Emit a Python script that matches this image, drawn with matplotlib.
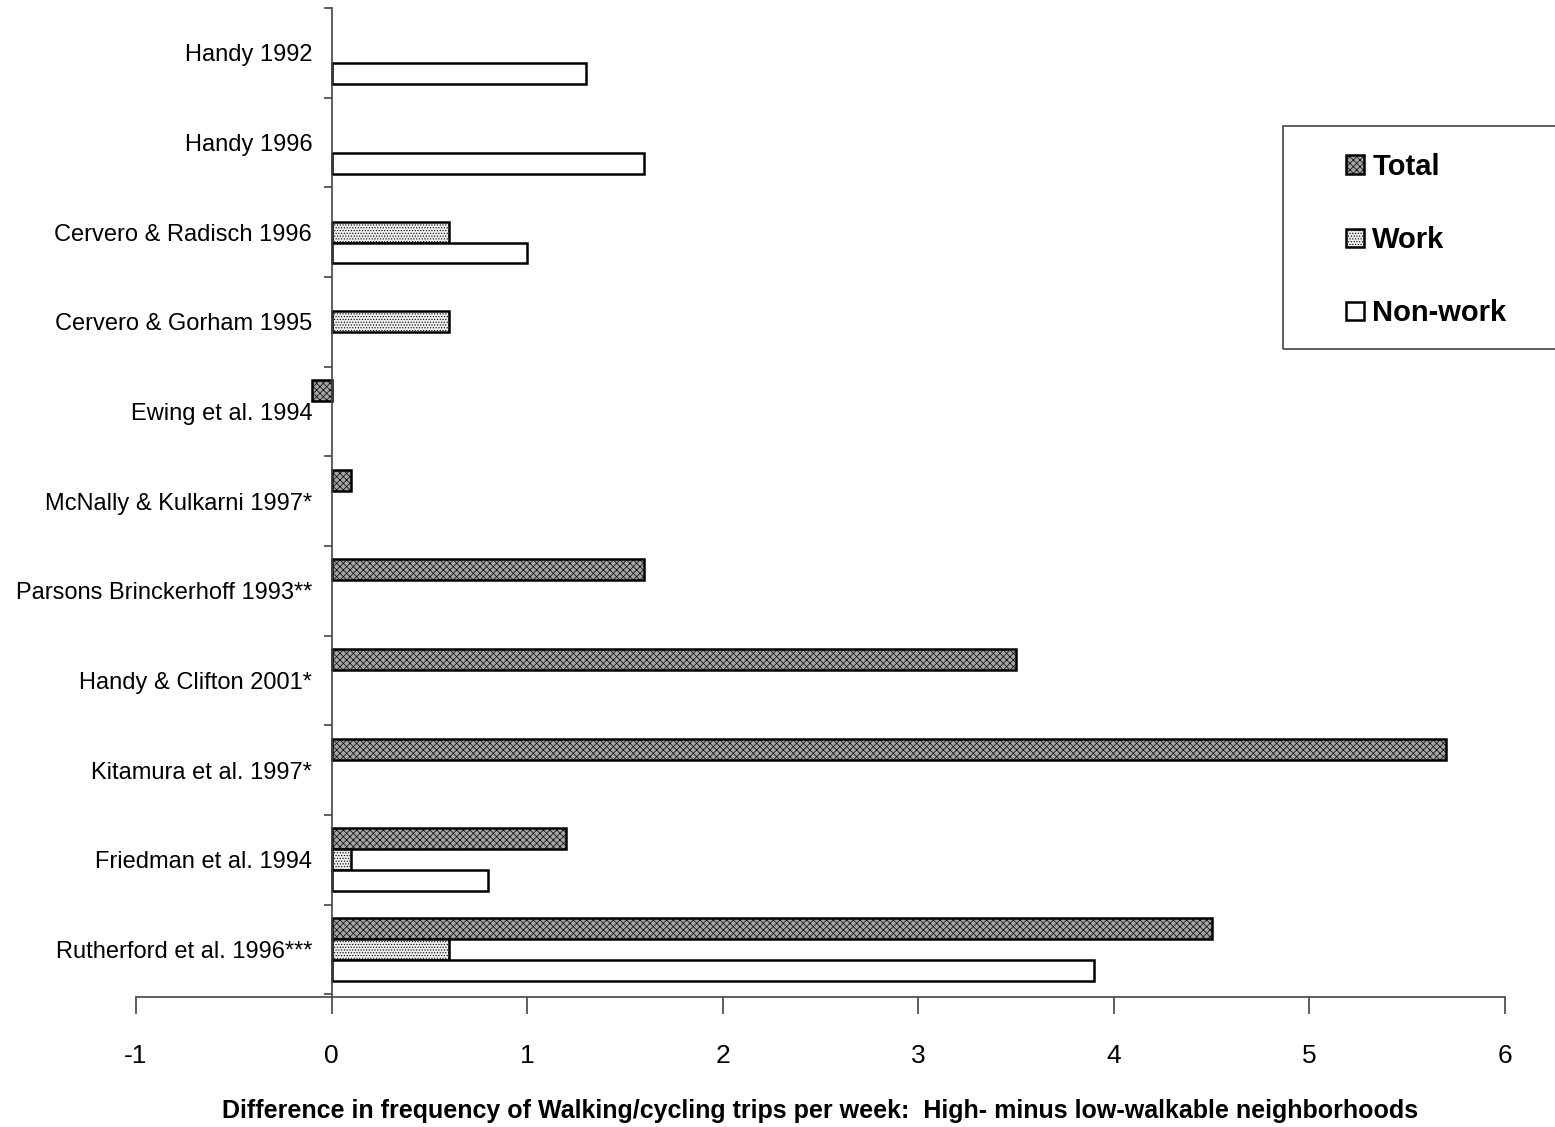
import matplotlib.pyplot as plt
import numpy as np
from matplotlib.patches import Rectangle

plt.rcParams["font.family"] = ["Liberation Sans", "DejaVu Sans"]
plt.rcParams["hatch.linewidth"] = 0.5

studies = [
    "Handy 1992",
    "Handy 1996",
    "Cervero & Radisch 1996",
    "Cervero & Gorham 1995",
    "Ewing et al. 1994",
    "McNally & Kulkarni 1997*",
    "Parsons Brinckerhoff 1993**",
    "Handy & Clifton 2001*",
    "Kitamura et al. 1997*",
    "Friedman et al. 1994",
    "Rutherford et al. 1996***",
]
total = [np.nan, np.nan, np.nan, np.nan, -0.1, 0.1, 1.6, 3.5, 5.7, 1.2, 4.5]
work = [np.nan, np.nan, 0.6, 0.6, np.nan, np.nan, np.nan, np.nan, np.nan, 0.1, 0.6]
nonwork = [1.3, 1.6, 1.0, np.nan, np.nan, np.nan, np.nan, np.nan, np.nan, 0.8, 3.9]

W, H = 1555, 1127
fig = plt.figure(figsize=(W / 100, H / 100), dpi=100)
ax = fig.add_axes([136 / W, 1 - 997 / H, (1505 - 136) / W, (997 - 8) / H])

y = np.arange(len(studies))
h = 0.233
ax.barh(y - h, total, height=h, color="#a4a4a4", edgecolor="black", linewidth=1.8,
        hatch="xxxxx", label="Total")
ax.barh(y, work, height=h, color="#eeeeee", edgecolor="black", linewidth=1.8,
        hatch="......", label="Work")
ax.barh(y + h, nonwork, height=h, color="white", edgecolor="black", linewidth=1.8,
        label="Non-work")

ax.set_xlim(-1, 6)
ax.set_ylim(len(studies) - 0.47, -0.5)
ax.spines["top"].set_visible(False)
ax.spines["right"].set_visible(False)
ax.spines["left"].set_position(("data", 0))
for s in ("left", "bottom"):
    ax.spines[s].set_color("#444444")
    ax.spines[s].set_linewidth(1.2)

ax.set_xticks(range(-1, 7))
ax.set_xticklabels([str(v) for v in range(-1, 7)], fontsize=19)
ax.tick_params(axis="x", direction="out", length=12, width=1.2, color="#444444", pad=22)

ax.set_yticks(np.arange(-0.5, len(studies), 1.0))
ax.set_yticklabels([])
ax.set_yticks(y, minor=True)
ax.set_yticklabels(studies, minor=True, fontsize=17)
ax.tick_params(axis="y", which="major", direction="out", length=6, width=1.2, color="#444444")
ax.tick_params(axis="y", which="minor", length=0, pad=14)

ax.set_xlabel("Difference in frequency of Walking/cycling trips per week:  High- minus low-walkable neighborhoods",
              fontsize=18, fontweight="bold", labelpad=22)

# legend box runs off the right edge like the original
fig.patches.append(Rectangle((1283 / W, 1 - 349 / H), (1600 - 1283) / W, (349 - 126) / H,
                             transform=fig.transFigure, fill=False, edgecolor="#444444",
                             linewidth=1.2))
leg = ax.legend(loc="upper left", bbox_to_anchor=(1346 / W, 1 - 153 / H),
                bbox_transform=fig.transFigure, prop={"weight": "bold", "size": 21},
                frameon=False, borderpad=0, labelspacing=1.55,
                handlelength=0.6, handleheight=0.6, handletextpad=0.3, borderaxespad=0)

fig.savefig("out.png", dpi=100)
